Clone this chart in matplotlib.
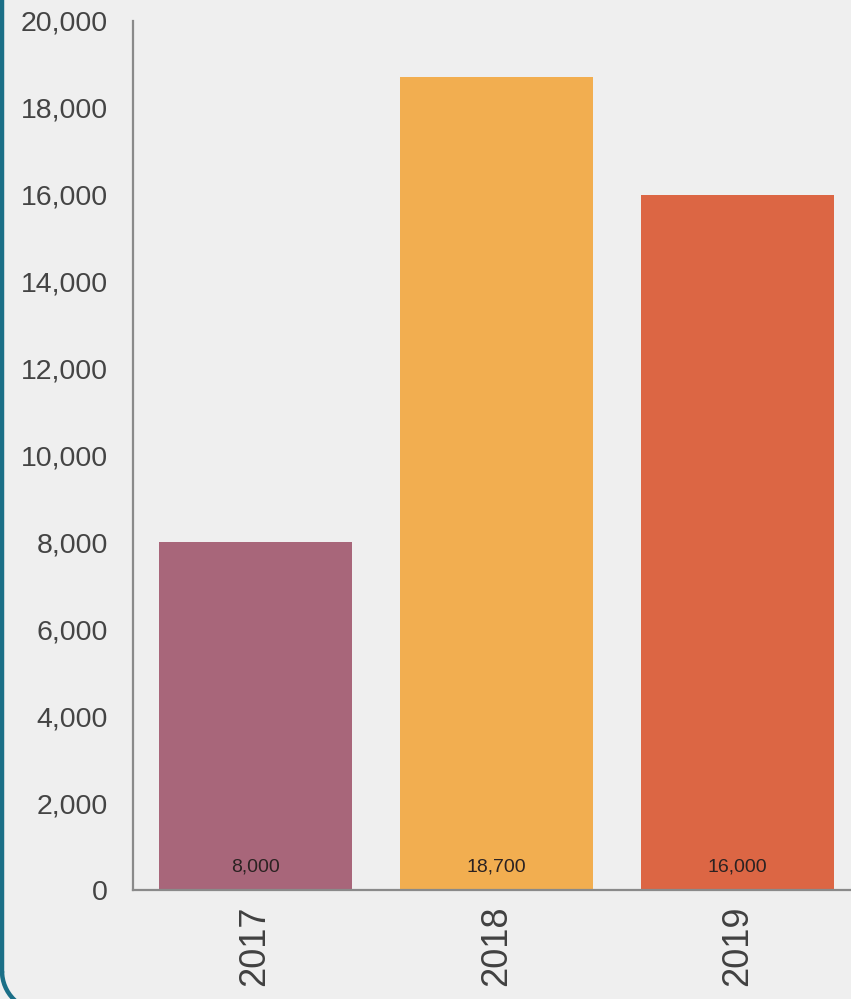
# Gráfico de barras: valores por ano (2017-2019)

import matplotlib

matplotlib.use("Agg")
import matplotlib.pyplot as plt
from matplotlib.lines import Line2D
from matplotlib.patches import Arc
from matplotlib.ticker import FuncFormatter

years = ["2017", "2018", "2019"]
values = [8000, 18700, 16000]
bar_colors = ["#a8667a", "#f2ae50", "#dc6644"]
y_ticks = [0, 2000, 4000, 6000, 8000, 10000, 12000, 14000, 16000, 18000, 20000]

BG = "#efefef"
AXIS = "#8a8a8a"
TEAL = "#1b6f87"

plt.rcParams["font.family"] = ["Liberation Sans", "DejaVu Sans"]

fig = plt.figure(figsize=(8.51, 9.99), dpi=100)
fig.patch.set_facecolor(BG)

# borda esquerda com canto inferior arredondado (coordenadas em polegadas)
r = 0.4
fig.add_artist(Line2D([0.02, 0.02], [-0.12 + r, 12], transform=fig.dpi_scale_trans,
                      color=TEAL, linewidth=3.2))
fig.add_artist(Arc((0.02 + r, -0.12 + r), 2 * r, 2 * r, theta1=180, theta2=270,
                   transform=fig.dpi_scale_trans, color=TEAL, linewidth=3.2))

ax = fig.add_axes([133 / 851, 109 / 999, 1 - 133 / 851, (890 - 21) / 999])
ax.set_facecolor(BG)

x = range(len(years))
ax.bar(x, values, width=0.8, color=bar_colors, zorder=2)

for i, v in enumerate(values):
    ax.annotate(
        f"{v:,}", (i, 0), xytext=(0, 16.5), textcoords="offset points",
        ha="center", va="center", fontsize=14, color="#2b2222",
    )

ax.set_xlim(-0.506, 2.47)
ax.set_ylim(0, 20000)
ax.set_yticks(y_ticks)
ax.yaxis.set_major_formatter(FuncFormatter(lambda v, _: f"{int(v):,}"))
ax.set_xticks(list(x))
ax.set_xticklabels(years, rotation=90)

ax.tick_params(axis="y", length=0, pad=18, labelsize=20.5, labelcolor="#444444")
ax.tick_params(axis="x", length=0, pad=11, labelsize=26, labelcolor="#404040")

for side in ["top", "right"]:
    ax.spines[side].set_visible(False)
for side in ["left", "bottom"]:
    ax.spines[side].set_color(AXIS)
    ax.spines[side].set_linewidth(1.6)

fig.savefig("out.png", dpi=100, facecolor=BG)
